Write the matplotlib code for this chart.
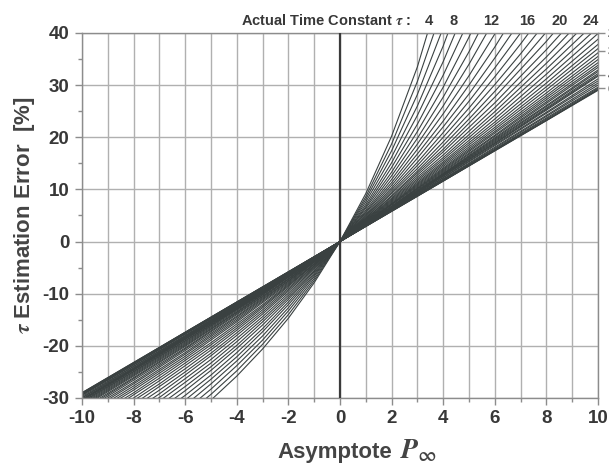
import numpy as np
import matplotlib.pyplot as plt
from matplotlib.ticker import MultipleLocator, FixedLocator
from matplotlib.transforms import blended_transform_factory

plt.rcParams["font.family"] = ["Liberation Sans", "DejaVu Sans"]
plt.rcParams["font.weight"] = "bold"
plt.rcParams["axes.unicode_minus"] = False
plt.rcParams["mathtext.fontset"] = "stix"

n = np.nan

# ─── Data ─────────────────────────────────────────────────────────────────────
# steep curves (tau 4..19), read every 1 unit of asymptote
P_FINE = list(range(-10, 11))
TAU_STEEP = list(range(4, 20))
ERROR_STEEP = [
    [n, n, n, n, n, -30.4, -25.8, -20.6, -14.7, -7.9, 0, 9.2, 20.2, 33.5, 50.0, n, n, n, n, n, n],        # 4
    [n, n, n, n, -33.4, -29.3, -24.8, -19.7, -14.0, -7.5, 0, 8.6, 18.7, 30.7, 45.1, n, n, n, n, n, n],     # 5
    [n, n, n, n, -32.4, -28.3, -23.8, -18.9, -13.3, -7.1, 0, 8.1, 17.4, 28.2, 41.0, n, n, n, n, n, n],     # 6
    [n, n, n, n, -31.4, -27.3, -22.9, -18.1, -12.7, -6.7, 0, 7.6, 16.2, 26.0, 37.5, 50.9, n, n, n, n, n],  # 7
    [n, n, n, n, -30.4, -26.4, -22.1, -17.3, -12.1, -6.4, 0, 7.1, 15.1, 24.2, 34.5, 46.3, n, n, n, n, n],  # 8
    [n, n, n, -33.1, -29.5, -25.6, -21.3, -16.7, -11.6, -6.1, 0, 6.7, 14.2, 22.5, 31.9, 42.5, n, n, n, n, n],  # 9
    [n, n, n, -32.2, -28.6, -24.7, -20.5, -16.0, -11.1, -5.8, 0, 6.4, 13.3, 21.1, 29.6, 39.2, 50.0, n, n, n, n],  # 10
    [n, n, n, -31.4, -27.8, -24.0, -19.9, -15.4, -10.7, -5.6, 0, 6.0, 12.6, 19.8, 27.7, 36.4, 46.1, n, n, n, n],  # 11
    [n, n, n, -30.6, -27.0, -23.3, -19.2, -14.9, -10.3, -5.3, 0, 5.7, 11.9, 18.7, 26.0, 34.0, 42.7, n, n, n, n],  # 12
    [n, n, -33.2, -29.9, -26.3, -22.6, -18.6, -14.4, -9.9, -5.1, 0, 5.5, 11.3, 17.7, 24.5, 31.8, 39.8, 48.5, n, n, n],  # 13
    [n, n, -32.5, -29.2, -25.6, -21.9, -18.0, -13.9, -9.5, -4.9, 0, 5.2, 10.8, 16.8, 23.1, 30.0, 37.3, 45.3, n, n, n],  # 14
    [n, n, -31.8, -28.5, -25.0, -21.4, -17.5, -13.5, -9.2, -4.7, 0, 5.0, 10.3, 16.0, 22.0, 28.3, 35.2, 42.4, n, n, n],  # 15
    [n, n, -31.2, -27.8, -24.4, -20.8, -17.0, -13.1, -8.9, -4.6, 0, 4.8, 9.9, 15.2, 20.9, 26.9, 33.3, 40.0, 47.2, n, n],  # 16
    [n, n, -30.5, -27.3, -23.8, -20.3, -16.6, -12.7, -8.6, -4.4, 0, 4.6, 9.5, 14.6, 20.0, 25.6, 31.6, 37.9, 44.5, n, n],  # 17
    [n, -33.1, -30.0, -26.7, -23.3, -19.8, -16.2, -12.4, -8.4, -4.3, 0, 4.5, 9.2, 14.0, 19.1, 24.5, 30.1, 36.0, 42.2, n, n],  # 18
    [n, -32.6, -29.4, -26.2, -22.8, -19.4, -15.8, -12.1, -8.2, -4.2, 0, 4.3, 8.8, 13.5, 18.4, 23.5, 28.8, 34.4, 40.2, n, n],  # 19
]

# flatter curves (tau 20..100), read every 2 units of asymptote
P_COARSE = [-10, -8, -6, -4, -2, 0, 2, 4, 6, 8, 10]
TAU_FLAT = list(range(20, 41)) + [42, 44, 47, 50, 55, 60, 70, 80, 100]
ERROR_FLAT = [
    [-35.1, -29.0, -22.4, -15.4, -8.0, 0, 8.6, 17.7, 27.7, 38.4, 50.0],  # 20
    [-34.6, -28.5, -22.0, -15.1, -7.8, 0, 8.3, 17.2, 26.6, 36.8, 47.7],  # 21
    [-34.2, -28.1, -21.6, -14.8, -7.6, 0, 8.1, 16.6, 25.7, 35.4, 45.8],  # 22
    [-33.8, -27.7, -21.3, -14.5, -7.5, 0, 7.9, 16.1, 24.9, 34.2, 44.0],  # 23
    [-33.4, -27.3, -20.9, -14.3, -7.3, 0, 7.7, 15.7, 24.2, 33.1, 42.5],  # 24
    [-33.0, -27.0, -20.6, -14.0, -7.2, 0, 7.5, 15.3, 23.5, 32.1, 41.1],  # 25
    [-32.7, -26.6, -20.4, -13.8, -7.1, 0, 7.3, 15.0, 22.9, 31.2, 39.9],  # 26
    [-32.4, -26.3, -20.1, -13.6, -6.9, 0, 7.2, 14.7, 22.4, 30.4, 38.8],  # 27
    [-32.1, -26.1, -19.9, -13.5, -6.8, 0, 7.1, 14.4, 21.9, 29.7, 37.8],  # 28
    [-31.8, -25.8, -19.7, -13.3, -6.7, 0, 7.0, 14.1, 21.5, 29.1, 37.0],  # 29
    [-31.6, -25.6, -19.5, -13.1, -6.7, 0, 6.8, 13.9, 21.1, 28.5, 36.2],  # 30
    [-31.4, -25.4, -19.3, -13.0, -6.6, 0, 6.7, 13.7, 20.8, 28.0, 35.5],  # 31
    [-31.2, -25.2, -19.1, -12.9, -6.5, 0, 6.7, 13.5, 20.4, 27.6, 34.9],  # 32
    [-31.0, -25.0, -19.0, -12.8, -6.4, 0, 6.6, 13.3, 20.2, 27.2, 34.3],  # 33
    [-30.8, -24.9, -18.8, -12.7, -6.4, 0, 6.5, 13.1, 19.9, 26.8, 33.8],  # 34
    [-30.7, -24.7, -18.7, -12.6, -6.3, 0, 6.4, 13.0, 19.7, 26.5, 33.4],  # 35
    [-30.5, -24.6, -18.6, -12.5, -6.3, 0, 6.4, 12.9, 19.5, 26.1, 32.9],  # 36
    [-30.4, -24.5, -18.5, -12.4, -6.2, 0, 6.3, 12.8, 19.3, 25.9, 32.6],  # 37
    [-30.3, -24.4, -18.4, -12.3, -6.2, 0, 6.3, 12.7, 19.1, 25.6, 32.2],  # 38
    [-30.2, -24.3, -18.3, -12.3, -6.2, 0, 6.2, 12.6, 18.9, 25.4, 31.9],  # 39
    [-30.0, -24.2, -18.2, -12.2, -6.1, 0, 6.2, 12.5, 18.8, 25.2, 31.7],  # 40
    [-29.9, -24.0, -18.1, -12.1, -6.1, 0, 6.1, 12.3, 18.6, 24.8, 31.2],  # 42
    [-29.7, -23.9, -18.0, -12.0, -6.0, 0, 6.1, 12.2, 18.4, 24.6, 30.8],  # 44
    [-29.5, -23.7, -17.8, -11.9, -6.0, 0, 6.0, 12.0, 18.1, 24.2, 30.4],  # 47
    [-29.4, -23.6, -17.7, -11.8, -5.9, 0, 6.0, 11.9, 17.9, 24.0, 30.0],  # 50
    [-29.3, -23.4, -17.6, -11.7, -5.9, 0, 5.9, 11.8, 17.7, 23.7, 29.6],  # 55
    [-29.2, -23.4, -17.5, -11.7, -5.9, 0, 5.9, 11.7, 17.6, 23.5, 29.4],  # 60
    [-29.1, -23.3, -17.4, -11.6, -5.8, 0, 5.8, 11.6, 17.5, 23.3, 29.2],  # 70
    [-29.0, -23.2, -17.4, -11.6, -5.8, 0, 5.8, 11.6, 17.4, 23.2, 29.1],  # 80
    [-29.0, -23.2, -17.4, -11.6, -5.8, 0, 5.8, 11.6, 17.4, 23.2, 29.0],  # 100
]

# tau labels along the top edge, at the x where their curve leaves the frame
TOP_LABELS = ["4", "8", "12", "16", "20", "24"]
TOP_LABEL_X = [3.45, 4.4, 5.85, 7.25, 8.5, 9.7]

# tau marks on the right edge (labels are cut off by the picture border)
RIGHT_TICK_Y = [40.0, 36.6, 32.0, 29.4]
RIGHT_TICK_LABELS = ["25", "30", "40", "60"]

# ─── Style ────────────────────────────────────────────────────────────────────
LINE_COLOR = "#3a4141"
GRID_COLOR = "#b0b0b0"
SPINE_COLOR = "#8c8c8c"
TEXT_COLOR = "#383838"

fig = plt.figure(figsize=(6.09, 4.70), dpi=100)
ax = fig.add_axes([0.1346, 0.1532, 0.8473, 0.7766])

for tau, row in zip(TAU_STEEP, ERROR_STEEP):
    ax.plot(P_FINE, row, color=LINE_COLOR, linewidth=0.8, solid_joinstyle="round")
for tau, row in zip(TAU_FLAT, ERROR_FLAT):
    ax.plot(P_COARSE, row, color=LINE_COLOR, linewidth=0.8, solid_joinstyle="round")

ax.axvline(0, color="#3a3a3a", linewidth=1.6, zorder=3)

ax.set_xlim(-10, 10)
ax.set_ylim(-30, 40)
ax.xaxis.set_major_locator(MultipleLocator(2))
ax.xaxis.set_minor_locator(MultipleLocator(1))
ax.yaxis.set_major_locator(MultipleLocator(10))
ax.yaxis.set_minor_locator(MultipleLocator(5))
ax.grid(which="both", axis="x", color=GRID_COLOR, linewidth=1.0)
ax.grid(which="major", axis="y", color=GRID_COLOR, linewidth=1.0)
ax.set_axisbelow(True)

for sp in ax.spines.values():
    sp.set_color(SPINE_COLOR)
    sp.set_linewidth(1.0)

ax.tick_params(which="major", direction="out", length=5, width=1, color=SPINE_COLOR,
               labelsize=13.5, labelcolor=TEXT_COLOR, pad=4)
ax.tick_params(which="minor", direction="out", length=3, width=1, color=SPINE_COLOR)
for lab in ax.get_xticklabels() + ax.get_yticklabels():
    lab.set_fontweight("bold")

# right-hand tau marks
ax2 = ax.twinx()
ax2.set_ylim(ax.get_ylim())
ax2.yaxis.set_major_locator(FixedLocator(RIGHT_TICK_Y))
ax2.set_yticklabels(RIGHT_TICK_LABELS, fontsize=9, fontweight="bold", color=TEXT_COLOR)
ax2.tick_params(direction="out", length=5, width=1, color=SPINE_COLOR, pad=2)
for sp in ax2.spines.values():
    sp.set_visible(False)

# top labels
trans = blended_transform_factory(ax.transData, ax.transAxes)
ax.text(2.75, 1.014, r"Actual Time Constant $\tau$ :", transform=trans, ha="right",
        va="bottom", fontsize=10.5, fontweight="bold", color=TEXT_COLOR)
for x, lab in zip(TOP_LABEL_X, TOP_LABELS):
    ax.text(x, 1.014, lab, transform=trans, ha="center", va="bottom",
            fontsize=10.5, fontweight="bold", color=TEXT_COLOR)

# axis titles
ax.set_ylabel(r"$\tau$ Estimation Error  [%]", fontsize=16, fontweight="bold",
              color="#444444", labelpad=4)
fig.text(335 / 609, 12 / 470, "Asymptote", ha="center", va="baseline",
         fontsize=16, fontweight="bold", color="#444444")
fig.text(400 / 609, 12 / 470, r"$P_{\infty}$", ha="left", va="baseline",
         fontsize=20, color="#444444")

fig.savefig("out.png", dpi=100)
